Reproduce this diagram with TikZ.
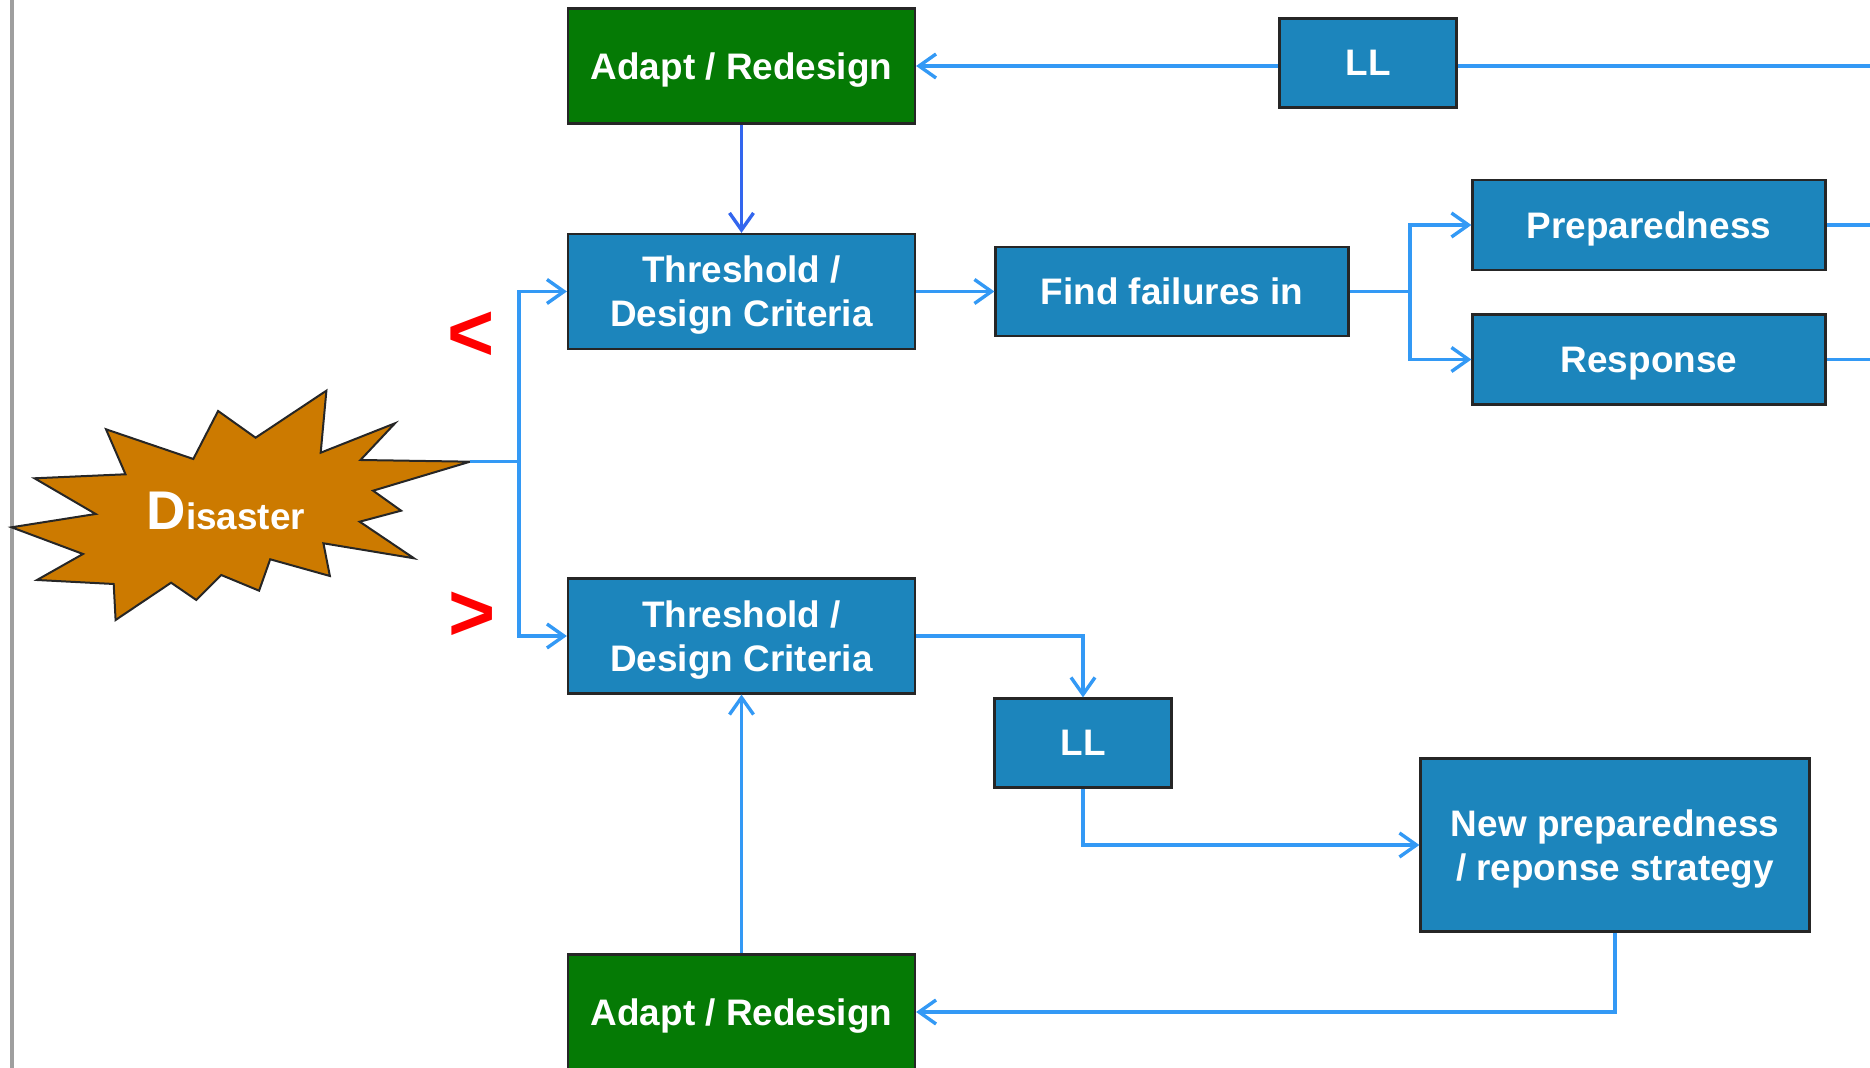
\documentclass[tikz,border=0pt]{standalone}
\usepackage{fontspec}
\setmainfont{Liberation Sans}
\usetikzlibrary{arrows.meta}
\definecolor{boxblue}{HTML}{1C85BC}
\definecolor{boxgreen}{HTML}{057A05}
\definecolor{burst}{HTML}{CC7A00}
\definecolor{linkblue}{HTML}{3399F5}
\definecolor{linkdark}{HTML}{3366EE}
\tikzset{
	block/.style={draw=black!85, line width=0.022cm, inner sep=0, align=center, text=white, text depth=0pt,
		font=\fontsize{10.5}{12.5}\selectfont\bfseries},
	blue block/.style={block, fill=boxblue},
	green block/.style={block, fill=boxgreen, minimum width=3.47cm, minimum height=1.15cm},
	link/.style={linkblue, line width=0.034cm},
	sign/.style={red, inner sep=0, font=\fontsize{23}{23}\selectfont\bfseries}
}
\begin{document}
\begin{tikzpicture}[>={Straight Barb[length=0.17cm, width=0.24cm]}]
	\useasboundingbox (0, 0) rectangle (18.7, 10.68);
	\draw[gray!75, line width=0.035cm] (0.12, 0) -- (0.12, 10.68);

	% disaster
	\draw[fill=burst, draw=black!85, line width=0.02cm, line join=miter, miter limit=8]
		(0.115, 5.407) -- (0.957, 5.54) -- (0.345, 5.897) -- (1.255, 5.937) -- (1.06, 6.387)
		-- (1.933, 6.09) -- (2.181, 6.57) -- (2.556, 6.303) -- (3.264, 6.773) -- (3.207, 6.153)
		-- (3.95, 6.447) -- (3.605, 6.08) -- (4.70, 6.063) -- (3.731, 5.773) -- (4.011, 5.573)
		-- (3.597, 5.463) -- (4.14, 5.097) -- (3.234, 5.247) -- (3.299, 4.92) -- (2.702, 5.087)
		-- (2.591, 4.773) -- (2.212, 4.93) -- (1.963, 4.68) -- (1.711, 4.853) -- (1.156, 4.48)
		-- (1.137, 4.84) -- (0.37, 4.88) -- (0.83, 5.14) -- cycle;
	\node[text=white, inner sep=0, font=\fontsize{10.5}{12.5}\selectfont\bfseries] (disaster) at (2.26, 5.57)
		{{\fontsize{15.5}{15.5}\selectfont D}isaster};
	\coordinate (tip) at (4.70, 6.063);
	\coordinate (split) at (5.19, 6.063);

	\node[sign] (less) at (4.71, 7.315) {<};
	\node[sign] (more) at (4.72, 4.515) {>};

	% upper row
	\node[green block] (adaptTop) at (7.415, 10.02) {Adapt / Redesign};
	\node[blue block, minimum width=1.77cm, minimum height=0.89cm] (llTop) at (13.68, 10.05) {LL};
	\node[blue block, minimum width=3.47cm, minimum height=1.15cm] (critTop) at (7.415, 7.765) {Threshold /\\Design Criteria};
	\node[blue block, minimum width=3.53cm, minimum height=0.89cm] (find) at (11.72, 7.765) {Find failures in};
	\node[blue block, minimum width=3.53cm, minimum height=0.9cm] (prep) at (16.49, 8.43) {Preparedness};
	\node[blue block, minimum width=3.53cm, minimum height=0.9cm] (resp) at (16.49, 7.085) {Response};
	\coordinate (split2) at (14.10, 7.765);

	% lower row
	\node[blue block, minimum width=3.47cm, minimum height=1.15cm] (critLow) at (7.415, 4.32) {Threshold /\\Design Criteria};
	\node[blue block, minimum width=1.77cm, minimum height=0.89cm] (llLow) at (10.83, 3.25) {LL};
	\node[blue block, minimum width=3.89cm, minimum height=1.73cm] (strategy) at (16.15, 2.23) {New preparedness\\/ reponse strategy};
	\node[green block] (adaptLow) at (7.415, 0.56) {Adapt / Redesign};

	% free ends on the right
	\coordinate (outLL) at (18.7, 10.02);
	\coordinate (outPrep) at (18.7, 8.43);
	\coordinate (outResp) at (18.7, 7.085);

	\draw[link] (tip) -- (split);
	\draw[link, ->] (split) |- (critTop.west);
	\draw[link, ->] (split) |- (critLow.west);
	\draw[link, ->] (llTop.west |- adaptTop.east) -- (adaptTop.east);
	\draw[link] (llTop.east |- outLL) -- (outLL);
	\draw[link, linkdark, ->] (adaptTop.south) -- (critTop.north);
	\draw[link, ->] (critTop.east) -- (find.west);
	\draw[link] (find.east) -- (split2);
	\draw[link, ->] (split2) |- (prep.west);
	\draw[link, ->] (split2) |- (resp.west);
	\draw[link] (prep.east) -- (outPrep);
	\draw[link] (resp.east) -- (outResp);
	\draw[link, ->] (critLow.east) -| (llLow.north);
	\draw[link, ->] (llLow.south) |- (strategy.west);
	\draw[link, ->] (strategy.south) |- (adaptLow.east);
	\draw[link, ->] (adaptLow.north) -- (critLow.south);
\end{tikzpicture}
\end{document}
